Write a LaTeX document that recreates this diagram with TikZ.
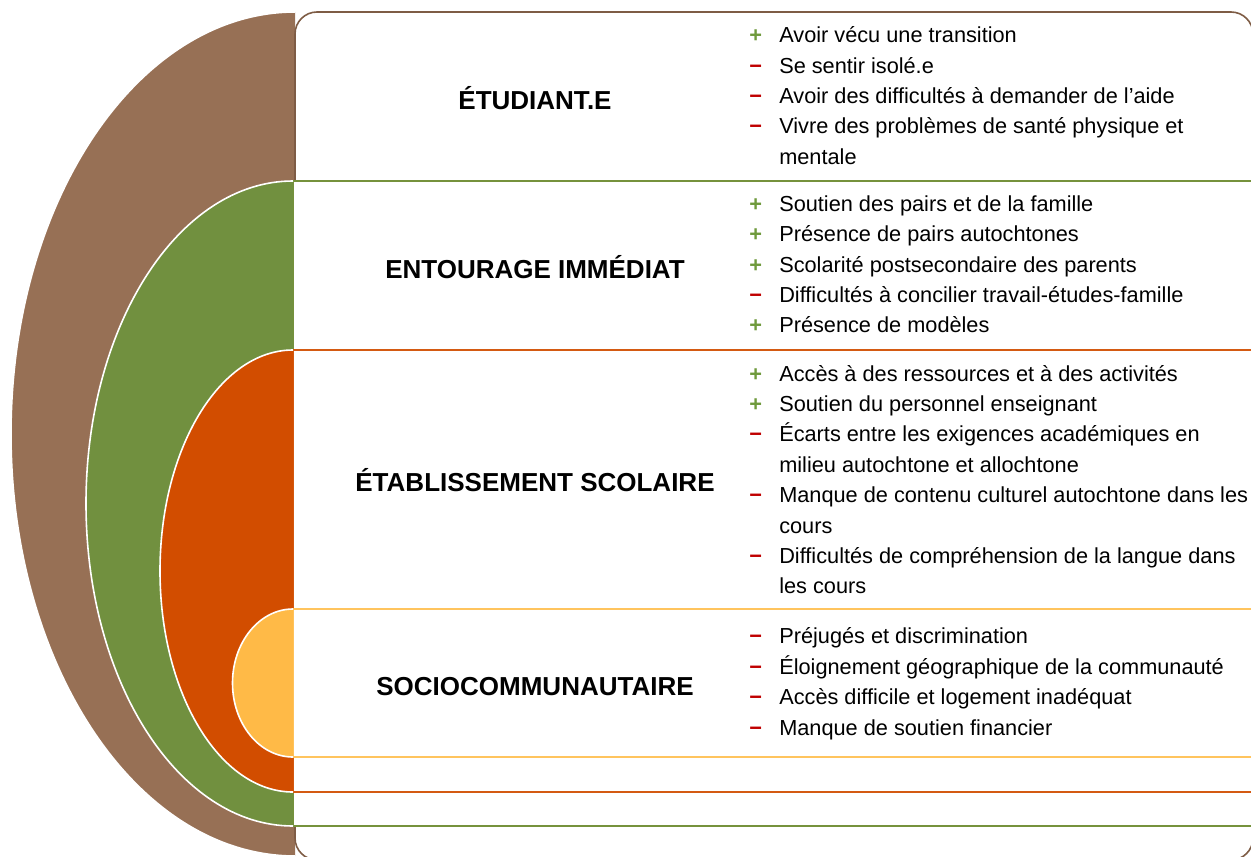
\documentclass[tikz,border=0pt]{standalone}
\usepackage{fontspec}
\setmainfont{Liberation Sans}
\usepackage{array}
\definecolor{brn}{HTML}{977055}
\definecolor{brnL}{HTML}{7E5C45}
\definecolor{grn}{HTML}{71903F}
\definecolor{grnL}{HTML}{76923C}
\definecolor{org}{HTML}{D24D00}
\definecolor{orgL}{HTML}{D45A12}
\definecolor{yel}{HTML}{FFBA47}
\definecolor{yelL}{HTML}{FFC45E}
\definecolor{plusc}{HTML}{6F9A3C}
\definecolor{minusc}{HTML}{C00000}
\newcommand\pl{\textcolor{plusc}{\textbf{+}}}
\newcommand\mi{\textcolor{minusc}{\textbf{−}}}
\tikzset{
  titlebox/.style={anchor=base, inner sep=0pt, font=\fontsize{19.5}{23}\selectfont\bfseries},
  listbox/.style={anchor=west, inner sep=0pt, align=left, font=\fontsize{16.3}{22.8}\selectfont},
  band/.style={fill=white, line width=1.5pt},
  halo/.style={draw=white, line width=1.2pt}
}
\newenvironment{plist}{\begin{tabular}{@{}p{9.5pt}@{\hspace{13pt}}l@{}}}{\end{tabular}}
\begin{document}
\begin{tikzpicture}[x=0.75pt,y=-0.75pt]
\useasboundingbox (0,0) rectangle (1251,856);
\clip (0,0) rectangle (1251,856);
% brown level
\fill[brn] (295,12) arc[start angle=270,end angle=90,x radius=284,y radius=422] -- cycle;
\draw[halo] (295,12) arc[start angle=270,end angle=90,x radius=284,y radius=422];
\draw[band, draw=brnL, line width=1.2pt, rounded corners=16.5pt] (295,12) rectangle (1253,860);
% green level
\draw[band, draw=grnL] (293,181) rectangle (1262,826);
\fill[grn] (293,181) arc[start angle=270,end angle=90,x radius=207,y radius=322.5] -- cycle;
\draw[halo] (293,181) arc[start angle=270,end angle=90,x radius=207,y radius=322.5];
% orange level
\draw[band, draw=orgL] (293,350) rectangle (1262,792);
\fill[org] (293,350) arc[start angle=270,end angle=90,x radius=133,y radius=221] -- cycle;
\draw[halo] (293,350) arc[start angle=270,end angle=90,x radius=133,y radius=221];
% yellow level
\draw[band, draw=yelL] (293,609) rectangle (1262,757);
\fill[yel] (293,609) arc[start angle=270,end angle=90,x radius=60.5,y radius=74] -- cycle;
\draw[halo] (293,609) arc[start angle=270,end angle=90,x radius=60.5,y radius=74];
% titles
\node[titlebox] (t1) at (535,109) {ÉTUDIANT.E};
\node[titlebox] (t2) at (535,278) {ENTOURAGE IMMÉDIAT};
\node[titlebox] (t3) at (535,491) {ÉTABLISSEMENT SCOLAIRE};
\node[titlebox] (t4) at (535,695) {SOCIOCOMMUNAUTAIRE};
% lists
\node[listbox] (l1) at (749,97.5) {\begin{plist}
\pl & Avoir vécu une transition\\
\mi & Se sentir isolé.e\\
\mi & Avoir des difficultés à demander de l’aide\\
\mi & Vivre des problèmes de santé physique et\\
    & mentale
\end{plist}};
\node[listbox] (l2) at (749,266) {\begin{plist}
\pl & Soutien des pairs et de la famille\\
\pl & Présence de pairs autochtones\\
\pl & Scolarité postsecondaire des parents\\
\mi & Difficultés à concilier travail-études-famille\\
\pl & Présence de modèles
\end{plist}};
\node[listbox] (l3) at (749,481.5) {\begin{plist}
\pl & Accès à des ressources et à des activités\\
\pl & Soutien du personnel enseignant\\
\mi & Écarts entre les exigences académiques en\\
    & milieu autochtone et allochtone\\
\mi & Manque de contenu culturel autochtone dans les\\
    & cours\\
\mi & Difficultés de compréhension de la langue dans\\
    & les cours
\end{plist}};
\node[listbox] (l4) at (749,683.5) {\begin{plist}
\mi & Préjugés et discrimination\\
\mi & Éloignement géographique de la communauté\\
\mi & Accès difficile et logement inadéquat\\
\mi & Manque de soutien financier
\end{plist}};
\end{tikzpicture}
\end{document}
